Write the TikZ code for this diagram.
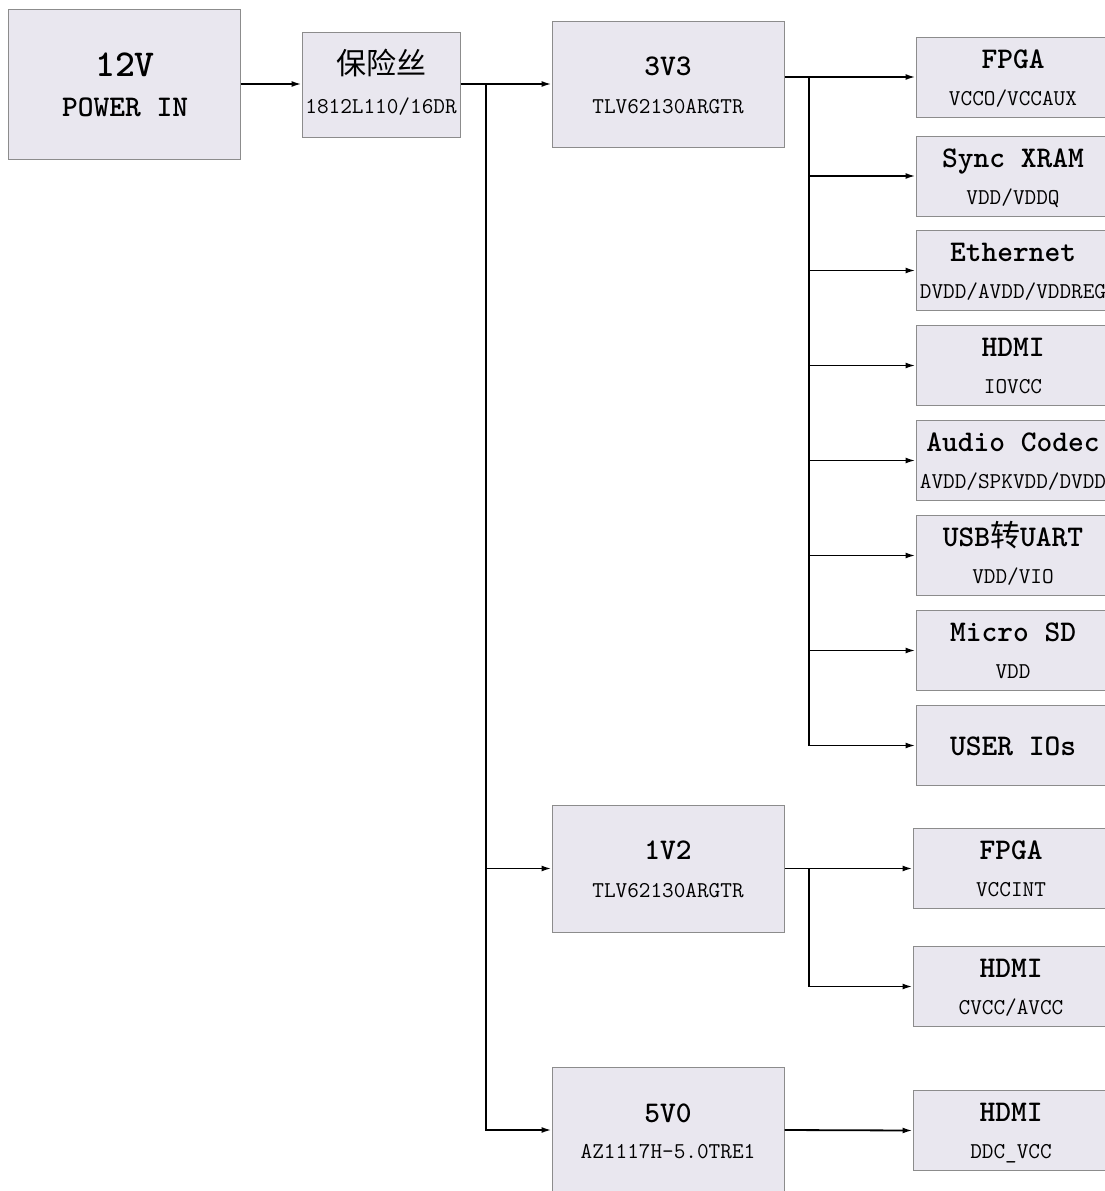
\documentclass[tikz,border=0pt]{standalone}
\usepackage{fontspec}
\newfontfamily\cjk{Noto Sans CJK SC}
\usetikzlibrary{arrows.meta,calc}
\definecolor{boxfill}{RGB}{233,231,239}
\definecolor{boxline}{RGB}{140,140,140}
\tikzset{
  blk/.style={draw=boxline, fill=boxfill, line width=1pt, rectangle, inner sep=0pt},
  rblk/.style={blk, minimum width=194pt, minimum height=80pt},
  ttl/.style={anchor=base, inner sep=0pt, font=\fontsize{30}{30}\selectfont\ttfamily\bfseries},
  big/.style={anchor=base, inner sep=0pt, font=\fontsize{38}{38}\selectfont\ttfamily\bfseries},
  sub/.style={anchor=base, inner sep=0pt, font=\fontsize{22.6}{22}\selectfont\ttfamily},
  wire/.style={line width=1.8pt, black},
  arr/.style={wire, -{Latex[length=10pt,width=6pt]}}
}
\begin{document}
\begin{tikzpicture}[x=1pt,y=-1pt]
\clip (0,0) rectangle (1105,1191);
\useasboundingbox (0,0) rectangle (1105,1191);
\fill[white] (0,0) rectangle (1105,1191);
% left column
\node[blk, minimum width=232pt, minimum height=150pt] (pin) at (124,84) {};
\node[big] (pin-t) at ($(pin.center)+(1,-8)$) {12V};
\node[ttl] (pin-s) at ($(pin.center)+(1,32)$) {POWER IN};
\node[blk, minimum width=158pt, minimum height=105pt] (fuse) at (381,84.5) {};
\node[anchor=base, inner sep=0pt, font=\fontsize{30}{30}\selectfont\cjk] (fuse-t) at ($(fuse.center)+(0,-10)$) {保险丝};
\node[sub] (fuse-s) at ($(fuse.center)+(0,28.5)$) {1812L110/16DR};
% regulators
\node[blk, minimum width=232pt, minimum height=126pt] (r33) at (668,84) {};
\node[ttl] (r33-t) at ($(r33.center)+(0,-9)$) {3V3};
\node[sub] (r33-s) at ($(r33.center)+(0,29)$) {TLV62130ARGTR};
\node[blk, minimum width=232pt, minimum height=127pt] (r12) at (668,868.5) {};
\node[ttl] (r12-t) at ($(r12.center)+(0,-9)$) {1V2};
\node[sub] (r12-s) at ($(r12.center)+(0,29)$) {TLV62130ARGTR};
\node[blk, minimum width=232pt, minimum height=126pt] (r50) at (668,1130) {};
\node[ttl] (r50-t) at ($(r50.center)+(0,-8)$) {5V0};
\node[sub] (r50-s) at ($(r50.center)+(0,28)$) {AZ1117H-5.0TRE1};
% 3V3 loads
\foreach \n/\yy/\t/\s in {fa/77/FPGA/{VCCO/VCCAUX}, sx/176/{Sync XRAM}/{VDD/VDDQ},
  et/270.5/Ethernet/{DVDD/AVDD/VDDREG}, hd/365.5/HDMI/IOVCC,
  au/460.5/{Audio Codec}/{AVDD/SPKVDD/DVDD}, us/555.5/{USB{\cjk\mdseries 转}UART}/{VDD/VIO},
  sd/650.5/{Micro SD}/VDD}{
  \node[rblk] (\n) at (1013,\yy) {};
  \node[ttl] (\n-t) at ($(\n.center)+(0,-9)$) {\t};
  \node[sub] (\n-s) at ($(\n.center)+(0,28)$) {\s};
}
\node[rblk] (ui) at (1013,745.5) {};
\node[ttl] (ui-t) at ($(ui.center)+(0,10)$) {USER IOs};
% 1V2 / 5V0 loads
\foreach \n/\yy/\t/\s in {fb/868.5/FPGA/VCCINT, hb/986.5/HDMI/{CVCC/AVCC}, hc/1130.5/HDMI/{DDC\_VCC}}{
  \node[rblk, minimum width=196pt] (\n) at (1011,\yy) {};
  \node[ttl] (\n-t) at ($(\n.center)+(0,-9)$) {\t};
  \node[sub] (\n-s) at ($(\n.center)+(0,28)$) {\s};
}
% connectors
\draw[arr] (pin.east) -- (fuse.west |- pin.east);
\draw[arr] (fuse.east |- r33.west) -- (r33.west);
\coordinate (j0) at (486,84);
\draw[arr] (j0) |- (r12.west);
\draw[arr] (j0) |- (r50.west);
\coordinate (b3) at (809,77);
\draw[arr] (r33.east |- fa.west) -- (fa.west);
\foreach \n in {sx,et,hd,au,us,sd,ui}{
  \draw[arr] (b3) |- (\n.west);
}
\coordinate (b12) at (809,868.5);
\draw[arr] (r12.east) -- (fb.west);
\draw[arr] (b12) |- (hb.west);
\draw[arr] (r50.east) -- (hc.west);
\end{tikzpicture}
\end{document}
